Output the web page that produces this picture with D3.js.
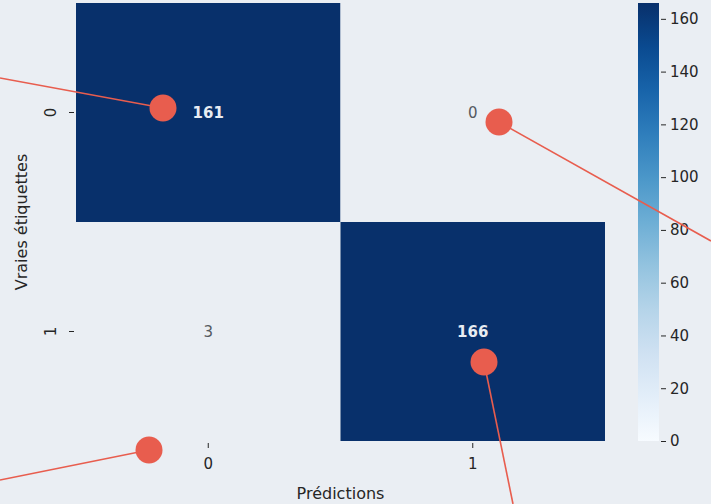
<!DOCTYPE html>
<html>
<head>
<meta charset="utf-8">
<script src="https://cdn.jsdelivr.net/npm/d3@7"></script>
<style>
  body { margin: 0; background: #eaeef3; }
  svg { display: block; font-family: "DejaVu Sans", sans-serif; }
</style>
</head>
<body>
<svg id="chart"></svg>
<script>
// confusion matrix
const labels = ["0", "1"];
const matrix = [
    [161, 0],
    [3, 166]
];
const colorTicks = [0, 20, 40, 60, 80, 100, 120, 140, 160];
const vmax = 166;

// annotation dots drawn on top of the figure, with their leader lines
const dots = [
    {cx: 163, cy: 108, tx: 0, ty: 78},
    {cx: 499, cy: 122, tx: 711, ty: 241},
    {cx: 484, cy: 362, tx: 513, ty: 504},
    {cx: 149, cy: 450, tx: 0, ty: 480}
];

const width = 711, height = 504;
const marginTop = 3, marginLeft = 76, plotRight = 605, plotBottom = 441;
const bg = "#eaeef3";

const svg = d3.select("#chart")
    .attr("width", width)
    .attr("height", height)
    .attr("viewBox", [0, 0, width, height]);

svg.append("rect").attr("width", width).attr("height", height).attr("fill", bg);

const x = d3.scaleBand().domain(labels).range([marginLeft, plotRight]);
const y = d3.scaleBand().domain(labels).range([marginTop, plotBottom]);
const color = d3.scaleSequential(d3.interpolateBlues).domain([0, vmax]);
// the light cells blend into the figure background, the dark ones are near the top colour
const cellColor = d3.scaleLinear()
    .domain([0, 20, 150, vmax])
    .range([bg, bg, "#08306b", "#08306b"])
    .clamp(true);

const cells = [];
matrix.forEach((row, i) => row.forEach((v, j) => cells.push({row: labels[i], col: labels[j], v})));

svg.append("g")
    .selectAll("rect")
    .data(cells)
    .join("rect")
    .attr("x", d => x(d.col))
    .attr("y", d => y(d.row))
    .attr("width", x.bandwidth())
    .attr("height", y.bandwidth())
    .attr("fill", d => cellColor(d.v));

svg.append("g")
    .selectAll("text")
    .data(cells)
    .join("text")
    .attr("x", d => x(d.col) + x.bandwidth() / 2)
    .attr("y", d => y(d.row) + y.bandwidth() / 2)
    .attr("dy", "0.35em")
    .attr("text-anchor", "middle")
    .attr("font-size", 15)
    .attr("font-weight", d => d.v > vmax / 2 ? "bold" : "normal")
    .attr("fill", d => d.v > vmax / 2 ? "#e8ecf2" : "#555a60")
    .text(d => d.v);

// axes
const xAxis = svg.append("g")
    .attr("transform", `translate(0,${plotBottom + 2})`)
    .call(d3.axisBottom(x).tickSize(5).tickPadding(10));
const yAxis = svg.append("g")
    .attr("transform", `translate(${marginLeft - 2},0)`)
    .call(d3.axisLeft(y).tickSize(5).tickPadding(8));

[xAxis, yAxis].forEach(a => {
    a.select(".domain").remove();
    a.selectAll(".tick line").attr("stroke", "#262626");
    a.selectAll(".tick text").attr("font-size", 15).attr("fill", "#262626")
        .attr("font-family", "DejaVu Sans, sans-serif");
});
yAxis.selectAll(".tick text")
    .attr("text-anchor", "middle")
    .attr("dy", null)
    .attr("transform", "translate(-23,0) rotate(-90)")
    .attr("x", 0)
    .attr("y", 5);

svg.append("text")
    .attr("x", (marginLeft + plotRight) / 2)
    .attr("y", 499)
    .attr("text-anchor", "middle")
    .attr("font-size", 16)
    .attr("fill", "#262626")
    .text("Prédictions");

svg.append("text")
    .attr("transform", `translate(27,${(marginTop + plotBottom) / 2}) rotate(-90)`)
    .attr("text-anchor", "middle")
    .attr("font-size", 16)
    .attr("fill", "#262626")
    .text("Vraies étiquettes");

// colorbar
const cbX = 638, cbW = 21;
const cy = d3.scaleLinear().domain([0, vmax]).range([plotBottom, marginTop]);

const grad = svg.append("defs").append("linearGradient")
    .attr("id", "cb").attr("x1", 0).attr("x2", 0).attr("y1", 1).attr("y2", 0);
d3.range(0, 1.0001, 0.1).forEach(t => {
    grad.append("stop").attr("offset", t).attr("stop-color", color(t * vmax));
});

svg.append("rect")
    .attr("x", cbX)
    .attr("y", cy(vmax))
    .attr("width", cbW)
    .attr("height", cy(0) - cy(vmax))
    .attr("fill", "url(#cb)");

const cbAxis = svg.append("g")
    .attr("transform", `translate(${cbX + cbW + 2},0)`)
    .call(d3.axisRight(cy).tickValues(colorTicks).tickSize(5).tickPadding(4));
cbAxis.select(".domain").remove();
cbAxis.selectAll(".tick line").attr("stroke", "#262626");
cbAxis.selectAll(".tick text").attr("font-size", 15).attr("fill", "#262626")
    .attr("font-family", "DejaVu Sans, sans-serif");

// overlay dots
const ov = svg.append("g");
ov.selectAll("line")
    .data(dots)
    .join("line")
    .attr("x1", d => d.cx).attr("y1", d => d.cy)
    .attr("x2", d => d.tx).attr("y2", d => d.ty)
    .attr("stroke", "#e85d4e")
    .attr("stroke-width", 1.6);
ov.selectAll("circle")
    .data(dots)
    .join("circle")
    .attr("cx", d => d.cx).attr("cy", d => d.cy)
    .attr("r", 13.5)
    .attr("fill", "#e85d4e");
</script>
</body>
</html>
